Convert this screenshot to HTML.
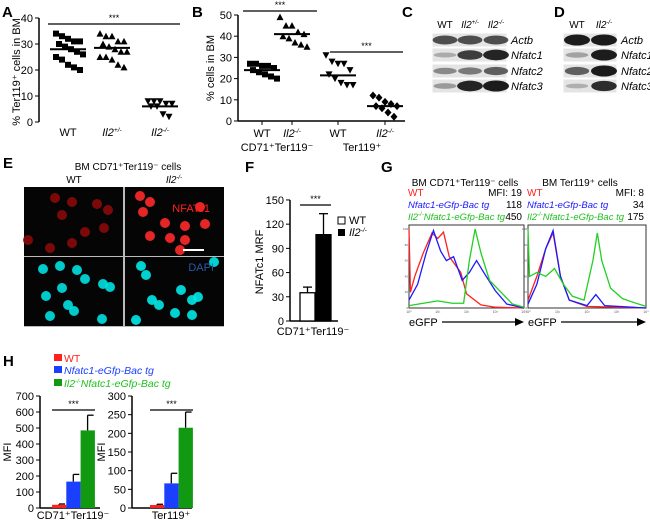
<!DOCTYPE html>
<html><head><meta charset="utf-8"><style>
body{margin:0;background:#fff;overflow:hidden}
svg{display:block;font-family:"Liberation Sans",Arial,sans-serif}
</style></head><body>
<svg id="fig" width="650" height="521" viewBox="0 0 650 521" xmlns="http://www.w3.org/2000/svg">
<g font-weight="bold" font-size="15">
<text x="2" y="17">A</text>
<text x="192" y="17">B</text>
<text x="402" y="17">C</text>
<text x="554" y="17">D</text>
<text x="3" y="168">E</text>
<text x="245" y="172">F</text>
<text x="381" y="172">G</text>
<text x="3" y="366">H</text>
</g>
<g id="gA"></g>
<g id="gB"></g>
<g id="gC"></g>
<g id="gD"></g>
<g id="gE"></g>
<g id="gF"></g>
<g id="gG"></g>
<g id="gH"></g>
</svg>
<script>
// ---- Data ----
const aCategories = ["WT","Il2+/-","Il2-/-"];
const aWT = [34,33,32,31,31,30,29,28,27,26,25,24,22,21,20];
const aHet = [34,33,33,31,31,30,29,28,27,27,25,25,24,22,21];
const aKO = [8,8,8,7,7,6,6,3,2];
const aMeans = [28,28.5,6];
const aTicks = [0,10,20,30,40];
const bCategories = ["WT","Il2-/-","WT","Il2-/-"];
const bCD71WT = [27,27,26,26,25,24,23,22,21,20];
const bCD71KO = [49,45,45,42,41,40,39,37,36,35];
const bTerWT = [31,28,27,27,24,22,20,18,17,17];
const bTerKO = [12,11,9,8,7,7,6,4,2];
const bMeans = [24,41,21.5,7];
const bTicks = [0,10,20,30,40,50];
const fValues = [35,107];
const fErrors = [7,26];
const fTicks = [0,30,60,90,120,150];
const hCD71 = [20,165,485];
const hCD71Err = [5,45,95];
const hTer = [8,66,215];
const hTerErr = [2,27,42];
const hTicksL = [0,100,200,300,400,500,600,700];
const hTicksR = [0,50,100,150,200,250,300];
const gLeftRed = [[0,100],[0.05,20],[0.2,40],[0.5,70],[0.8,95],[1.0,88],[1.2,96],[1.4,65],[1.6,55],[1.8,45],[2.0,18],[2.5,4],[3,1],[4,0]];
const gLeftBlue = [[0,10],[0.3,30],[0.6,70],[0.85,98],[1.1,72],[1.3,60],[1.55,65],[1.85,35],[2.1,45],[2.35,60],[2.6,45],[3.0,22],[3.4,5],[4,0]];
const gLeftGreen = [[0,3],[0.5,6],[1,9],[1.5,6],[1.9,6],[2.1,60],[2.3,100],[2.5,70],[2.8,35],[3.2,20],[3.6,5],[4,1]];
const gRightRed = [[0,10],[0.3,40],[0.6,75],[0.85,95],[1.1,40],[1.4,10],[2,2],[4,0]];
const gRightBlue = [[0,5],[0.3,30],[0.6,75],[0.85,98],[1.1,40],[1.4,10],[2,3],[2.3,17],[2.6,3],[4,0]];
const gRightGreen = [[0,100],[0.05,40],[0.3,45],[0.6,40],[0.9,50],[1.2,30],[1.5,15],[1.9,10],[2.2,60],[2.35,95],[2.5,60],[2.8,25],[3.2,12],[3.5,8],[4,2]];

const NS="http://www.w3.org/2000/svg";
function mk(parent,tag,attrs,text){const e=document.createElementNS(NS,tag);for(const k in attrs)e.setAttribute(k,attrs[k]);if(text!==undefined)e.textContent=text;parent.appendChild(e);return e;}

function marker(g,shape,cx,cy){
  let e;
  if(shape==="sq"){e=mk(g,"rect",{x:cx-3,y:cy-3,width:6,height:6,fill:"#000"});}
  else if(shape==="up"){e=mk(g,"polygon",{points:`${cx},${cy-3.5} ${cx+3.5},${cy+3} ${cx-3.5},${cy+3}`,fill:"#000"});}
  else if(shape==="down"){e=mk(g,"polygon",{points:`${cx},${cy+3.5} ${cx+3.5},${cy-3} ${cx-3.5},${cy-3}`,fill:"#000"});}
  else {e=mk(g,"polygon",{points:`${cx},${cy-4} ${cx+3.5},${cy} ${cx},${cy+4} ${cx-3.5},${cy}`,fill:"#000"});}
  
  
}
function scatterGroup(g,vals,cx,y,shape,mean){
  const offs=[-12,-6,0,6,12];
  vals.forEach((v,i)=>marker(g,shape,cx+offs[i%5]+(Math.floor(i/5)%2?3:0),y(v)));
  const m=mk(g,"line",{x1:cx-18,x2:cx+18,y1:y(mean),y2:y(mean),stroke:"#000","stroke-width":2});
  
  
}
function yAxis(g,x,y,ticks,fs){
  mk(g,"line",{x1:x,x2:x,y1:y(ticks[ticks.length-1]),y2:y(ticks[0]),stroke:"#000","stroke-width":1.5});
  ticks.forEach(t=>{mk(g,"line",{x1:x-4,x2:x,y1:y(t),y2:y(t),stroke:"#000"});
    const l=mk(g,"text",{x:x-6,y:y(t)+4,"text-anchor":"end","font-size":fs},t);
    
    });
}
function sig(g,x1,x2,y){
  mk(g,"line",{x1:x1,x2:x2,y1:y,y2:y,stroke:"#000","stroke-width":1.3});
  mk(g,"text",{x:(x1+x2)/2,y:y-3,"text-anchor":"middle","font-size":9},"***");
}
function ital(g,x,y,base,sup,fs,anchor){
  const t=mk(g,"text",{x:x,y:y,"font-size":fs,"font-style":"italic","text-anchor":anchor||"middle"});
  mk(t,"tspan",{},base);mk(t,"tspan",{"font-size":fs*0.6,dy:-4},sup);
  return t;
}

// ---- Panel A ----
(function(){
 const g=document.getElementById("gA");
 const y=v=>122-v*2.6;
 yAxis(g,39,y,aTicks,11);
 sig(g,48,180,24);
 const xs=[68,112,160];
 scatterGroup(g,aWT,xs[0],y,"sq",aMeans[0]);
 scatterGroup(g,aHet,xs[1],y,"up",aMeans[1]);
 scatterGroup(g,aKO,xs[2],y,"down",aMeans[2]);
 mk(g,"text",{x:xs[0],y:136,"text-anchor":"middle","font-size":11},"WT");
 ital(g,xs[1],136,"Il2","+/-",11);ital(g,xs[2],136,"Il2","-/-",11);
 mk(g,"text",{transform:"translate(20,72) rotate(-90)","text-anchor":"middle","font-size":11},"% Ter119⁺ cells in BM");
})();
// ---- Panel B ----
(function(){
 const g=document.getElementById("gB");
 const y=v=>121-v*2.12;
 yAxis(g,238,y,bTicks,11);
 mk(g,"line",{x1:238,x2:405,y1:121,y2:121,stroke:"#000","stroke-width":1.5});
 const xs=[262,292,338,385];
 xs.forEach(x=>mk(g,"line",{x1:x,x2:x,y1:121,y2:125,stroke:"#000"}));
 sig(g,243,317,11);sig(g,330,403,52);
 scatterGroup(g,bCD71WT,xs[0],y,"sq",bMeans[0]);
 scatterGroup(g,bCD71KO,xs[1],y,"up",bMeans[1]);
 scatterGroup(g,bTerWT,xs[2],y,"down",bMeans[2]);
 scatterGroup(g,bTerKO,xs[3],y,"dia",bMeans[3]);
 mk(g,"text",{x:xs[0],y:137,"text-anchor":"middle","font-size":11},"WT");
 ital(g,xs[1],137,"Il2","-/-",11);
 mk(g,"text",{x:xs[2],y:137,"text-anchor":"middle","font-size":11},"WT");
 ital(g,xs[3],137,"Il2","-/-",11);
 mk(g,"text",{x:277,y:151,"text-anchor":"middle","font-size":11},"CD71⁺Ter119⁻");
 mk(g,"text",{x:362,y:151,"text-anchor":"middle","font-size":11},"Ter119⁺");
 mk(g,"text",{transform:"translate(214,68) rotate(-90)","text-anchor":"middle","font-size":11},"% cells in BM");
})();
// ---- Panels C, D (blots) ----
function blot(g,x0,x1,lanes,intens,labels){
 const rows=[40,55,71,86];
 rows.forEach((ry,r)=>{
  mk(g,"rect",{x:x0,y:ry-7,width:x1-x0,height:14,fill:"#e4e4e4",stroke:"#fff","stroke-width":1});
  lanes.forEach((lx,i)=>{const a=intens[r][i];
    mk(g,"ellipse",{cx:lx,cy:ry,rx:11+a*2,ry:2+a*3.5,fill:"#111","fill-opacity":0.15+a*0.8});});
  ital(g,x1+4,ry+4,labels[r],"",11,"start");
 });
}
(function(){
 const g=document.getElementById("gC");
 blot(g,432,507,[445,470,496],[[0.7,0.7,0.7],[0.15,0.8,0.95],[0.35,0.45,0.6],[0.25,0.95,1]],["Actb","Nfatc1","Nfatc2","Nfatc3"]);
 mk(g,"text",{x:445,y:28,"text-anchor":"middle","font-size":10},"WT");
 ital(g,470,28,"Il2","+/-",10);ital(g,496,28,"Il2","-/-",10);
 const d=document.getElementById("gD");
 blot(d,563,617,[577,604],[[1,1],[0.2,1],[0.6,1],[0.12,0.9]],["Actb","Nfatc1","Nfatc2","Nfatc3"]);
 mk(d,"text",{x:577,y:28,"text-anchor":"middle","font-size":10},"WT");
 ital(d,604,28,"Il2","-/-",10);
})();
// ---- Panel E (microscopy) ----
(function(){
 const g=document.getElementById("gE");
 mk(g,"text",{x:128,y:170,"text-anchor":"middle","font-size":10},"BM CD71⁺Ter119⁻ cells");
 mk(g,"text",{x:74,y:183,"text-anchor":"middle","font-size":10},"WT");
 ital(g,174,183,"Il2","-/-",10);
 mk(g,"rect",{x:24,y:187,width:200,height:140,fill:"#bbb"});
 const panels=[[24,187,"#8a0a0a",[[55,198],[72,202],[97,204],[62,215],[108,210],[85,232],[104,228],[50,248],[72,243],[28,240]]],
   [125,187,"#ff2a2a",[[140,196],[150,202],[143,212],[200,207],[165,223],[185,226],[205,224],[150,236],[170,238],[185,240],[180,250]]],
   [24,257,"#00e0e0",[[43,269],[60,266],[77,270],[85,279],[62,288],[103,284],[110,287],[46,296],[68,305],[50,316],[74,311],[102,319]]],
   [125,257,"#00e8e8",[[141,266],[146,275],[152,300],[159,305],[181,290],[192,300],[198,297],[175,313],[192,315],[214,262],[136,320]]]];
 panels.forEach(p=>{
  mk(g,"rect",{x:p[0],y:p[1],width:99,height:69,fill:"#050505"});
  p[3].forEach(c=>mk(g,"circle",{cx:c[0],cy:c[1],r:5,fill:p[2],"fill-opacity":0.9}));
 });
 mk(g,"line",{x1:183,x2:204,y1:250,y2:250,stroke:"#fff","stroke-width":2});
 mk(g,"text",{x:210,y:212,"text-anchor":"end","font-size":11,fill:"#ff2020"},"NFATc1");
 mk(g,"text",{x:214,y:271,"text-anchor":"end","font-size":11,fill:"#2a5aa8"},"DAPI");
})();
// ---- Panel F ----
(function(){
 const g=document.getElementById("gF");
 const y=v=>321-v*0.807;
 yAxis(g,290,y,fTicks,11);
 mk(g,"line",{x1:290,x2:338,y1:321,y2:321,stroke:"#000","stroke-width":1.5});
 const xs=[300,316],fills=["#fff","#000"];
 fValues.forEach((v,i)=>{
  mk(g,"line",{x1:xs[i]+7.5,x2:xs[i]+7.5,y1:y(v),y2:y(v+fErrors[i]),stroke:"#000","stroke-width":1.3});
  mk(g,"line",{x1:xs[i]+3,x2:xs[i]+12,y1:y(v+fErrors[i]),y2:y(v+fErrors[i]),stroke:"#000","stroke-width":1.3});
  const b=mk(g,"rect",{x:xs[i],y:y(v),width:15,height:321-y(v),fill:fills[i],stroke:"#000","stroke-width":1.3});
  
  
 });
 sig(g,300,331,205);
 mk(g,"rect",{x:338,y:217,width:7,height:7,fill:"#fff",stroke:"#000"});
 mk(g,"text",{x:349,y:224,"font-size":11},"WT");
 mk(g,"rect",{x:338,y:229,width:7,height:7,fill:"#000"});
 ital(g,349,236,"Il2","-/-",11,"start");
 mk(g,"text",{x:313,y:335,"text-anchor":"middle","font-size":11},"CD71⁺Ter119⁻");
 mk(g,"text",{transform:"translate(263,262) rotate(-90)","text-anchor":"middle","font-size":11},"NFATc1 MRF");
})();
// ---- Panel G ----
(function(){
 const g=document.getElementById("gG");
 mk(g,"text",{x:465,y:186,"text-anchor":"middle","font-size":10},"BM CD71⁺Ter119⁻ cells");
 mk(g,"text",{x:580,y:186,"text-anchor":"middle","font-size":10},"BM Ter119⁺ cells");
 function plot(x0,x1,series,leg){
  const y0=308,y1=225;
  mk(g,"rect",{x:x0,y:y1,width:x1-x0,height:y0-y1,fill:"#fff",stroke:"#333","stroke-width":1});
  const sx=v=>x0+v/4*(x1-x0), sy=v=>y0-v/100*(y0-y1-4);
  const cols=["#ff2020","#1a1aff","#22d022"];
  series.forEach((s,i)=>{const l=mk(g,"polyline",{points:s.map(p=>sx(p[0])+","+sy(p[1])).join(" "),fill:"none",stroke:cols[i],"stroke-width":1.3});
   
   });
  [0,1,2,3,4].forEach(t=>mk(g,"text",{x:sx(t),y:313,"text-anchor":"middle","font-size":3.5,fill:"#555"},"10"+["⁰","¹","²","³","⁴"][t]));
  [0,20,40,60,80,100].forEach(t=>mk(g,"text",{x:x0-1,y:sy(t)+1,"text-anchor":"end","font-size":3,fill:"#555"},t));
  mk(g,"text",{x:x0,y:326,"font-size":11},"eGFP");
  mk(g,"line",{x1:x0+33,x2:x1-8,y1:322,y2:322,stroke:"#000","stroke-width":1.3});
  mk(g,"polygon",{points:`${x1},322 ${x1-9},318 ${x1-9},326`,fill:"#000"});
  mk(g,"text",{x:x0-1,y:196,"font-size":10,fill:"#ff2020"},"WT");
  mk(g,"text",{x:x0-1,y:208,"font-size":9.5,fill:"#1a1aff","font-style":"italic"},"Nfatc1-eGfp-Bac tg");
  const t=mk(g,"text",{x:x0-1,y:220,"font-size":9.5,fill:"#22c022","font-style":"italic"});
  mk(t,"tspan",{},"Il2");mk(t,"tspan",{"font-size":6,dy:-4},"-/-");mk(t,"tspan",{dy:4},"Nfatc1-eGfp-Bac tg");
  mk(g,"text",{x:x1-2,y:196,"font-size":10,"text-anchor":"end"},leg[0]);
  mk(g,"text",{x:x1-2,y:208,"font-size":10,"text-anchor":"end"},leg[1]);
  mk(g,"text",{x:x1-2,y:220,"font-size":10,"text-anchor":"end"},leg[2]);
 }
 plot(409,524,[gLeftRed,gLeftBlue,gLeftGreen],["MFI: 19","118","450"]);
 plot(528,646,[gRightRed,gRightBlue,gRightGreen],["MFI: 8","34","175"]);
})();
// ---- Panel H ----
(function(){
 const g=document.getElementById("gH");
 const cols=["#ff2020","#1a3fff","#119911"];
 mk(g,"rect",{x:54,y:354,width:8,height:7,fill:cols[0]});
 mk(g,"text",{x:64,y:362,"font-size":10.5,fill:cols[0]},"WT");
 mk(g,"rect",{x:54,y:366,width:8,height:7,fill:cols[1]});
 mk(g,"text",{x:64,y:374,"font-size":10.5,fill:cols[1],"font-style":"italic"},"Nfatc1-eGfp-Bac tg");
 mk(g,"rect",{x:54,y:379,width:8,height:7,fill:cols[2]});
 const t=mk(g,"text",{x:64,y:387,"font-size":10.5,fill:"#22c022","font-style":"italic"});
 mk(t,"tspan",{},"Il2");mk(t,"tspan",{"font-size":6,dy:-4},"-/-");mk(t,"tspan",{dy:4},"Nfatc1-eGfp-Bac  tg");
 function chart(x0,vals,errs,ticks,bx,lab,ylx){
  const max=ticks[ticks.length-1];
  const y=v=>508-v/max*112;
  yAxis(g,x0,y,ticks,11);
  mk(g,"line",{x1:x0,x2:x0+60,y1:508,y2:508,stroke:"#000","stroke-width":1.5});
  vals.forEach((v,i)=>{const x=bx+i*14.3;
   mk(g,"line",{x1:x+7,x2:x+7,y1:y(v),y2:y(v+errs[i]),stroke:"#000","stroke-width":1.3});
   mk(g,"line",{x1:x+7,x2:x+13,y1:y(v+errs[i]),y2:y(v+errs[i]),stroke:"#000","stroke-width":1.3});
   const b=mk(g,"rect",{x:x,y:y(v),width:14.3,height:508-y(v),fill:cols[i]});
   
   
  });
  sig(g,bx,bx+43,410);
  mk(g,"text",{x:bx+21,y:519,"text-anchor":"middle","font-size":11},lab);
  mk(g,"text",{transform:`translate(${ylx},452) rotate(-90)`,"text-anchor":"middle","font-size":11},"MFI");
 }
 chart(40,hCD71,hCD71Err,hTicksL,52,"CD71⁺Ter119⁻",11);
 chart(132,hTer,hTerErr,hTicksR,150,"Ter119⁺",105);
})();
</script>
</body></html>
